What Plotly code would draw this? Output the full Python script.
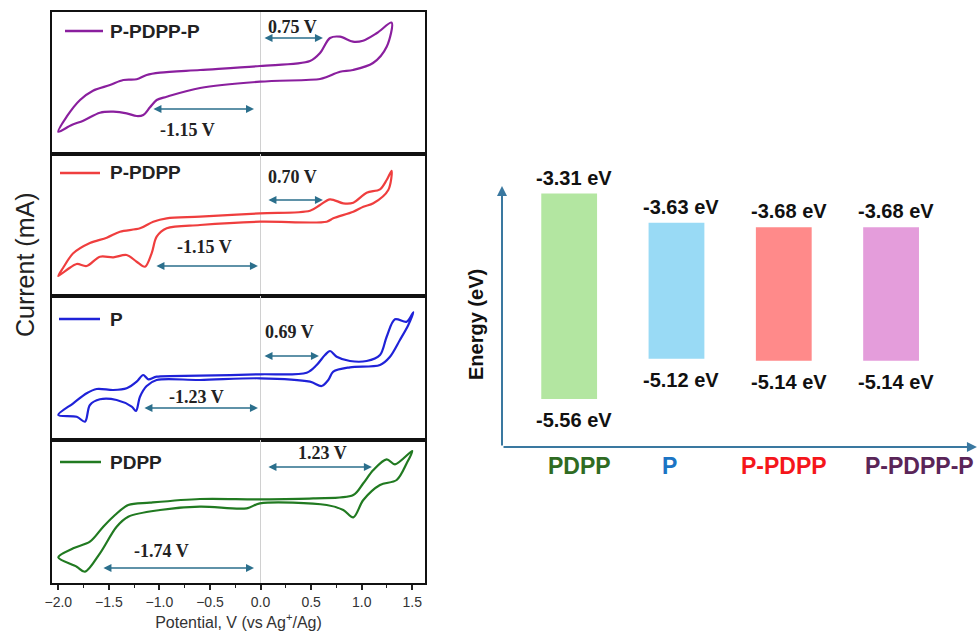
import plotly.graph_objects as go

# ---------------- Cyclic voltammetry data (potential V vs Ag+/Ag, current a.u.) ----------------
pot_ppdppp = [-2.00, -1.917, -1.785, -1.657, -1.489, -1.357, -1.225, -1.126, -0.994, -0.598, -0.005,
              0.489, 0.588, 0.687, 0.786, 0.914, 1.013, 1.151, 1.296,
              1.247, 1.112, 0.914, 0.786, 0.654, 0.588, -0.005, -0.598, -0.928, -1.027, -1.093,
              -1.160, -1.225, -1.324, -1.456, -1.588, -1.753, -1.868, -2.00]
cur_ppdppp = [22.3, 37.3, 54.0, 63.3, 69.0, 74.0, 74.7, 79.0, 81.3, 84.0, 88.0,
              93.0, 101.0, 116.0, 117.3, 112.3, 113.3, 121.0, 131.3,
              107.3, 91.0, 84.0, 82.3, 77.0, 75.0, 72.3, 66.0, 57.3, 54.0, 46.7,
              39.0, 38.0, 40.7, 42.3, 41.3, 33.3, 29.0, 22.3]

pot_ppdpp = [-2.00, -1.953, -1.852, -1.687, -1.521, -1.390, -1.192, -1.061, -0.928, -0.599, -0.006,
             0.489, 0.588, 0.687, 0.818, 0.917, 1.049, 1.181, 1.247, 1.296,
             1.263, 1.115, 1.016, 0.917, 0.719, 0.654, -0.006, -0.599, -0.928, -1.027, -1.077,
             -1.143, -1.225, -1.324, -1.456, -1.588, -1.719, -1.818, -1.917, -2.00]
cur_ppdpp = [20.0, 28.0, 42.7, 53.0, 58.3, 64.3, 67.7, 74.3, 77.7, 79.3, 82.7,
             85.3, 91.0, 96.7, 92.7, 93.3, 103.3, 106.7, 116.0, 125.3,
             106.0, 92.7, 89.3, 84.3, 77.7, 74.3, 74.3, 71.0, 67.7, 59.3, 42.7,
             29.3, 34.3, 41.0, 38.7, 39.3, 30.0, 32.0, 26.0, 20.0]

pot_p = [-2.00, -1.852, -1.719, -1.620, -1.456, -1.324, -1.225, -1.160, -1.110, -1.027, -0.599, -0.006,
         0.456, 0.555, 0.637, 0.687, 0.753, 0.884, 1.049, 1.181, 1.247, 1.329, 1.445, 1.510,
         1.461, 1.378, 1.280, 1.181, 0.884, 0.719, 0.670, 0.604, 0.489, -0.006, -0.599, -1.027,
         -1.126, -1.192, -1.232, -1.274, -1.423, -1.588, -1.687, -1.736, -1.818, -2.00]
cur_p = [25.0, 36.7, 46.7, 51.0, 50.0, 51.7, 58.3, 65.0, 60.7, 63.3, 64.3, 65.7,
         67.3, 75.0, 85.0, 89.0, 83.3, 79.0, 79.0, 85.0, 103.3, 120.7, 118.3, 127.7,
         115.0, 100.0, 83.3, 75.0, 72.7, 68.3, 60.0, 54.0, 58.3, 61.7, 60.0, 60.0,
         54.0, 43.3, 29.0, 33.3, 40.0, 40.7, 35.0, 18.3, 23.3, 25.0]

pot_pdpp = [-2.00, -1.852, -1.687, -1.555, -1.439, -1.308, -1.093, -0.599, -0.006,
            0.521, 0.917, 1.016, 1.115, 1.247, 1.329, 1.500,
            1.445, 1.346, 1.181, 1.016, 0.917, 0.818, 0.654, -0.006, -0.137, -0.599, -0.994,
            -1.308, -1.423, -1.588, -1.736, -1.818, -2.00]
cur_pdpp = [25.7, 34.7, 41.3, 56.3, 68.0, 78.0, 80.3, 84.0, 83.7,
            84.7, 88.0, 99.7, 113.0, 123.7, 118.7, 132.0,
            119.7, 103.0, 98.0, 83.0, 65.7, 73.0, 78.0, 79.7, 74.7, 76.3, 73.0,
            66.3, 56.3, 29.7, 11.3, 16.3, 25.7]

cv_names = ["P-PDPP-P", "P-PDPP", "P", "PDPP"]
cv_pots = [pot_ppdppp, pot_ppdpp, pot_p, pot_pdpp]
cv_curs = [cur_ppdppp, cur_ppdpp, cur_p, cur_pdpp]
cv_colors = ["#8a1f9e", "#ef3e3e", "#1f22d8", "#217a21"]

# onset potentials (arrow end points, V) and labels
ox_labels = ["0.75 V", "0.70 V", "0.69 V", "1.23 V"]
red_labels = ["-1.15 V", "-1.15 V", "-1.23 V", "-1.74 V"]
ox_arrow = [(0.024, 0.617), (0.063, 0.617), (0.024, 0.577), (0.063, 1.101)]
red_arrow = [(-1.074, -0.065), (-1.044, -0.026), (-1.163, -0.026), (-1.568, -0.065)]

# ---------------- Energy level data ----------------
materials = ["PDPP", "P", "P-PDPP", "P-PDPP-P"]
lumo = [-3.31, -3.63, -3.68, -3.68]
homo = [-5.56, -5.12, -5.14, -5.14]
bar_colors = ["#b3e6a1", "#99daf5", "#ff8a8a", "#e49ddb"]
label_colors = ["#2f6b22", "#1c74c4", "#f5161b", "#5a2558"]
label_xshift = [10, -7, 0, 28]   # layout nudges of the category names

x_ticks = [-2.0, -1.5, -1.0, -0.5, 0.0, 0.5, 1.0, 1.5]

# ---------------- layout geometry (pixels) ----------------
W, H = 980, 644
def px(x): return x / W
def py(y): return 1 - y / H

panel_px = [(12, 154), (154, 296), (296, 440), (440, 583)]
legend_px = [(65, 103, 31), (60, 100, 173), (59, 100, 319), (60, 101, 462)]
ox_label_pos = [(0.311, 127), (0.311, 119), (0.291, 108), (0.608, 130)]
red_label_pos = [(-0.718, 24), (-0.550, 49), (-0.629, 43), (-0.975, 32)]
ox_arrow_y = [116, 96, 84, 116]
red_arrow_y = [45, 30, 32, 15]

fig = go.Figure()
layout = dict(width=W, height=H, margin=dict(l=0, r=0, t=0, b=0, autoexpand=False),
              paper_bgcolor="white", plot_bgcolor="white", showlegend=False)
annotations = []
shapes = []

XR = [-2.062, 1.626]
arrow_col = "#2b6f8c"
for i in range(4):
    n = i + 1
    top, bot = panel_px[i]
    hgt = bot - top
    xa = "x" if n == 1 else f"x{n}"
    ya = "y" if n == 1 else f"y{n}"
    fig.add_trace(go.Scatter(x=cv_pots[i], y=cv_curs[i], mode="lines",
                             line=dict(color=cv_colors[i], width=2.2, shape="spline", smoothing=0.9),
                             xaxis=xa, yaxis=ya, name=cv_names[i], hoverinfo="skip"))
    xkey = "xaxis" if n == 1 else f"xaxis{n}"
    ykey = "yaxis" if n == 1 else f"yaxis{n}"
    xdict = dict(domain=[px(52), px(425)], range=XR, anchor=ya, automargin=False,
                 showline=True, mirror=True, linecolor="#111", linewidth=2,
                 showgrid=False, zeroline=True, zerolinecolor="#d0d0d0", zerolinewidth=1,
                 showticklabels=False, ticks="")
    if n != 1:
        xdict["matches"] = "x"
    if n == 4:
        xdict.update(showticklabels=True, ticks="outside", ticklen=5, tickwidth=1.5,
                     tickcolor="#222", tickvals=x_ticks,
                     ticktext=[f"{v:.1f}".replace("-", "\u2212") for v in x_ticks],
                     tickfont=dict(family="Liberation Sans, Arial", size=14, color="#333"),
                     minor=dict(ticks="outside", ticklen=3, tickwidth=1.2, tickcolor="#222", dtick=0.25),
                     title=dict(text="Potential, V (vs Ag<sup>+</sup>/Ag)",
                                font=dict(family="Liberation Sans, Arial", size=16, color="#333"),
                                standoff=8))
    layout[xkey] = xdict
    layout[ykey] = dict(domain=[py(bot), py(top)], range=[0, hgt], anchor=xa, automargin=False,
                        showline=True, mirror=True, linecolor="#111", linewidth=2,
                        showgrid=False, zeroline=False, showticklabels=False, ticks="")
    # legend sample
    lx0, lx1, ly = legend_px[i]
    shapes.append(dict(type="line", xref="paper", yref="paper", x0=px(lx0), x1=px(lx1),
                       y0=py(ly), y1=py(ly), line=dict(color=cv_colors[i], width=2.5)))
    annotations.append(dict(xref="paper", yref="paper", x=px(108), y=py(ly), xanchor="left",
                            yanchor="middle", showarrow=False, text=f"<b>{cv_names[i]}</b>",
                            font=dict(family="Liberation Sans, Arial", size=19, color="#222")))
    # double arrows
    for (a0, a1), yv in ((ox_arrow[i], ox_arrow_y[i]), (red_arrow[i], red_arrow_y[i])):
        annotations.append(dict(xref=xa, yref=ya, axref=xa, ayref=ya, x=a1, y=yv, ax=a0, ay=yv,
                                showarrow=True, arrowhead=2, arrowside="end+start", arrowsize=1,
                                arrowwidth=1.6, arrowcolor=arrow_col, text=""))
    for txt, (lx, lyv) in ((ox_labels[i], ox_label_pos[i]), (red_labels[i], red_label_pos[i])):
        annotations.append(dict(xref=xa, yref=ya, x=lx, y=lyv, showarrow=False,
                                text=f"<b>{txt}</b>",
                                font=dict(family="Liberation Serif, Times New Roman", size=18,
                                          color="#222")))

annotations.append(dict(xref="paper", yref="paper", x=px(25), y=py(265), textangle=-90,
                        xanchor="center", yanchor="middle",
                        showarrow=False, text="Current (mA)",
                        font=dict(family="Liberation Sans, Arial", size=25, color="#222")))

# ---------------- Energy level diagram ----------------
fig.add_trace(go.Bar(x=materials, y=[l - h for l, h in zip(lumo, homo)], base=homo,
                     marker=dict(color=bar_colors, line=dict(width=0)), width=0.52,
                     xaxis="x5", yaxis="y5", hoverinfo="skip"))
ER = [-6.085, -2.9425]
XR5 = [-0.626, 3.81]
layout["xaxis5"] = dict(domain=[px(502), px(978)], range=XR5, anchor="y5", visible=False,
                        type="category")
layout["yaxis5"] = dict(domain=[py(447), py(160)], range=ER, anchor="x5", visible=False)
axis_col = "#3a78a0"
# axis arrows
annotations.append(dict(xref="x5", yref="y5", axref="x5", ayref="y5", x=XR5[0], y=-3.227,
                        ax=XR5[0], ay=ER[0], showarrow=True, arrowhead=2, arrowsize=1,
                        arrowwidth=2, arrowcolor=axis_col, text=""))
annotations.append(dict(xref="x5", yref="y5", axref="x5", ayref="y5", x=XR5[1] - 0.01, y=ER[0],
                        ax=XR5[0], ay=ER[0], showarrow=True, arrowhead=2, arrowsize=1,
                        arrowwidth=2, arrowcolor=axis_col, text=""))
for m, l, h, c, xs in zip(materials, lumo, homo, label_colors, label_xshift):
    annotations.append(dict(xref="x5", yref="y5", x=m, y=l, yanchor="bottom", yshift=3, xshift=5,
                            showarrow=False, text=f"<b>{l:.2f} eV</b>",
                            font=dict(family="Liberation Sans, Arial", size=20, color="#111")))
    annotations.append(dict(xref="x5", yref="y5", x=m, y=h, yanchor="top", yshift=-8, xshift=5,
                            showarrow=False, text=f"<b>{h:.2f} eV</b>",
                            font=dict(family="Liberation Sans, Arial", size=20, color="#111")))
    annotations.append(dict(xref="x5", yref="paper", x=m, y=py(466), yanchor="middle", xshift=xs,
                            showarrow=False, text=f"<b>{m}</b>",
                            font=dict(family="Liberation Sans, Arial", size=23, color=c)))
annotations.append(dict(xref="paper", yref="paper", x=px(476), y=py(325), textangle=-90,
                        xanchor="center", yanchor="middle",
                        showarrow=False, text="<b>Energy (eV)</b>",
                        font=dict(family="Liberation Sans, Arial", size=20, color="#111")))

layout["annotations"] = annotations
layout["shapes"] = shapes
fig.update_layout(**layout)
fig.write_html("out.html")
